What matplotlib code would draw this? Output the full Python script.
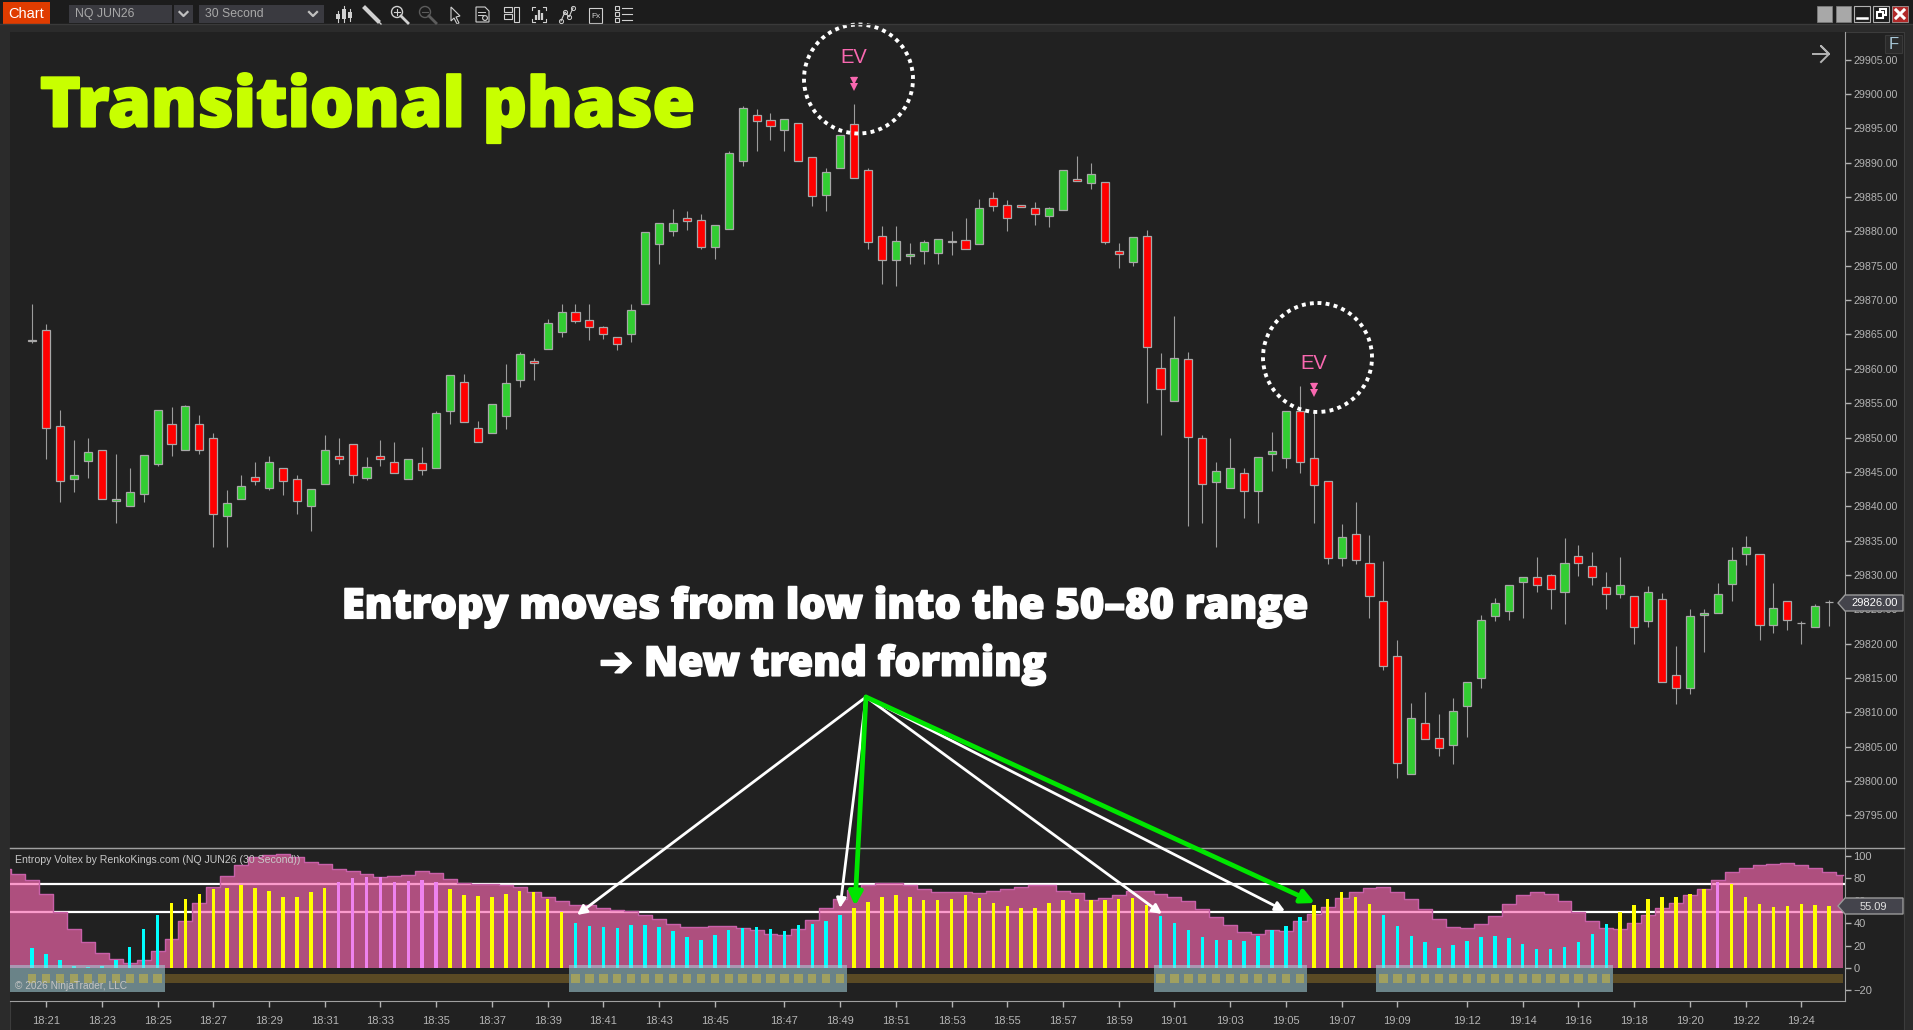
import numpy as np
import matplotlib
matplotlib.use('Agg')
import matplotlib.pyplot as plt
import matplotlib.patheffects as pe
from matplotlib.patches import Circle, Polygon, Rectangle

plt.rcParams['font.family'] = ['Liberation Sans', 'DejaVu Sans']

# NQ JUN26 30 second bars, prices given as points above base_price
base_price = 29800
open_pts = [64.25, 65.7, 51.7, 43.9, 46.6, 48.25, 40.7, 40, 41.75, 46.2,
            51.9, 48.25, 51.9, 50, 38.6, 41, 44.2, 42.7, 45.6, 43.9,
            40, 43.2, 47.3, 49.1, 44.1, 47.3, 46.5, 43.9, 46.25, 45.6,
            53.9, 58.1, 51.4, 50.7, 53.2, 58.4, 61.2, 62.9, 65.4, 68.2,
            67.15, 66.1, 64.7, 65, 69.5, 78.1, 80.1, 82, 81.65, 77.8,
            80.3, 90.3, 96.9, 96.15, 94.8, 95.85, 90.9, 85.3, 89.3, 95.6,
            88.9, 79.3, 75.8, 76.4, 77.1, 76.8, 78.6, 78.8, 78.1, 84.85,
            83.8, 83.8, 83.4, 82.3, 83.05, 87.6, 87.1, 87.2, 77.2, 75.6,
            79.3, 60.1, 55.3, 61.4, 50, 43.45, 42.7, 44.9, 42.15, 47.65,
            46.95, 53.85, 46.95, 43.7, 32.5, 35.9, 31.7, 26.2, 18.2, 1.05,
            8.5, 6.3, 5.3, 10.95, 15, 24, 24.8, 29, 29.7, 29.95,
            27.5, 32.8, 31.3, 28.3, 27.2, 26.95, 23.3, 26.5, 15.4, 13.6,
            24.15, 24.45, 28.65, 33, 33.05, 22.7, 26.2, 23, 22.4, 26]
high_pts = [69.5, 66.5, 54.05, 49.6, 49.9, 48.25, 47.6, 45.5, 47.4, 54,
            54.4, 54.8, 53.3, 50.6, 42.4, 44.5, 46.4, 47.3, 45.6, 44.5,
            42.5, 50.3, 49.9, 49.1, 47.1, 49.6, 49.3, 46.9, 48.6, 53.9,
            59.15, 59.3, 52.4, 54.9, 60.65, 62.5, 61.5, 67.3, 69.4, 69.5,
            69.4, 66.3, 64.7, 69.5, 79.9, 81.2, 83.3, 82.9, 82.6, 80.9,
            91.7, 98.2, 97.75, 97.2, 96.3, 95.85, 90.9, 89.3, 94.1, 98.5,
            89.3, 80.8, 80.8, 78.35, 78.8, 78.9, 80.1, 82, 84.75, 85.7,
            84.6, 83.8, 84.3, 83.6, 88.9, 91, 89.9, 87.2, 78.35, 79.2,
            80.2, 62.3, 67.7, 62.5, 50.3, 46.5, 50, 45.5, 47.2, 50.75,
            53.9, 57.55, 54, 43.7, 37.4, 40.6, 35.8, 32, 20.5, 11.4,
            12.9, 9.8, 12.1, 14.45, 24.1, 26.7, 28.55, 29.7, 32.6, 30.15,
            35.4, 34.4, 33.4, 30.35, 32.6, 26.95, 28.45, 27.4, 19.7, 25,
            25, 28.85, 34.1, 35.7, 33.05, 28.85, 26.2, 23.3, 25.8, 26.4]
low_pts = [63.75, 46.8, 40.6, 42.1, 44.1, 41, 37.6, 40, 40.6, 45.9,
           47.3, 48.25, 47.6, 34.1, 34.1, 41, 43.1, 42.4, 41.6, 38.9,
           36.4, 43.2, 46.1, 43.4, 43.8, 45.8, 44.9, 43.9, 44.5, 45.6,
           52, 52.2, 49.4, 50.7, 51.3, 57.4, 58.3, 62.9, 64.6, 66.7,
           64.15, 64.3, 62.8, 63.9, 69.5, 75.3, 79.3, 80.2, 77.5, 76,
           80.3, 89.5, 91.7, 93.3, 91.7, 90.3, 83.7, 83, 89.3, 87.8,
           77.5, 72.3, 72.1, 75.3, 75.3, 75.3, 76.6, 77.4, 78.1, 83,
           80.1, 83.6, 80.9, 80.6, 83.05, 87.4, 86.1, 78.1, 74.6, 74.9,
           54.95, 50.4, 55.3, 37.15, 37.5, 34.1, 42.7, 38.3, 37.5, 45.1,
           45.55, 44.85, 37.6, 31.65, 31.3, 31.65, 23.7, 16.2, 0.45, 1.05,
           6.05, 3.7, 2.5, 6.4, 13.6, 23.3, 23.4, 23.7, 27.5, 25,
           22.9, 29.9, 28.6, 25, 26.7, 19.9, 22.4, 14.45, 11.25, 12.7,
           18.75, 24.45, 26.2, 31.4, 20.5, 21.5, 22, 19.9, 22.4, 22.6]
close_pts = [64, 51.4, 43.7, 44.5, 47.95, 41, 41, 42, 47.4, 54,
             49.1, 54.6, 48.25, 38.9, 40.5, 42.9, 43.7, 46.5, 43.7, 40.7,
             42.5, 48.25, 46.9, 44.6, 45.7, 46.9, 44.9, 46.9, 45.2, 53.6,
             59.15, 52.2, 49.4, 54.9, 58, 62.2, 60.9, 66.7, 68.2, 67,
             66.1, 65.1, 63.6, 68.5, 79.9, 81.2, 81.2, 81.55, 77.8, 80.9,
             91.4, 97.9, 96.1, 95.4, 96.3, 90.3, 85.1, 88.6, 94.1, 87.8,
             78.45, 75.8, 78.6, 76.75, 78.45, 78.9, 78.5, 77.4, 83.4, 83.7,
             81.9, 83.6, 82.6, 83.4, 88.9, 87.4, 88.3, 78.4, 76.75, 79.2,
             63.2, 57.05, 61.6, 50.1, 43.2, 45.15, 45.5, 42.15, 47.2, 48,
             53.9, 46.5, 43.15, 32.5, 35.5, 32.2, 26.9, 16.75, 2.55, 9.2,
             6.05, 4.75, 10.25, 14.45, 23.5, 25.9, 28.55, 29.7, 28.5, 28,
             31.75, 31.7, 29.7, 27.2, 28.55, 22.45, 27.5, 14.45, 13.6, 24.05,
             24.5, 27.25, 32.2, 34.1, 22.7, 25.2, 23.5, 23, 25.5, 26]

# Entropy Voltex: thin bars per price bar, background area starts two bars earlier
entropy_bars = [18.2, 12.2, 6.8, 2.1, 1.2, 2.1, 7.1, 19, 34.5, 47.6,
                58.3, 61.9, 66.4, 70.8, 71.7, 73.8, 71.7, 69, 63.4, 63.7,
                68.2, 71.7, 76.5, 80.7, 81.3, 81, 77.1, 77.4, 78.9, 77.1,
                70.8, 65.5, 64.6, 63.7, 66.4, 69, 68.2, 61.3, 50.3, 40.5,
                37.2, 36.3, 35.4, 38.1, 38.1, 36.3, 32.7, 27.4, 24.7, 29.2,
                33.6, 35.4, 36.3, 34.5, 32.7, 38.1, 39, 41.7, 47.6, 53.3,
                58.6, 63.1, 65.5, 63.1, 60.4, 60.4, 61.3, 64.9, 62.2, 57.7,
                55.1, 53.3, 53.3, 57.7, 60.4, 61.3, 60.4, 60.4, 61.9, 62.2,
                56.3, 46.4, 39.9, 33.6, 27.4, 24.7, 24.7, 23.8, 28.9, 33.6,
                37.2, 45.2, 56, 61.9, 67.6, 63.7, 56.8, 47.3, 37.2, 28.9,
                22.9, 17.6, 20.2, 23.8, 28, 28.9, 26.5, 21.1, 16.7, 16.7,
                18.5, 22.9, 30.1, 39, 50.3, 56, 61.3, 63.7, 63.7, 66.4,
                70.8, 77.1, 74.7, 63.7, 56.8, 54.2, 55.7, 56.8, 56, 55.09]
entropy_area = [88.4, 83.6, 78.3, 66.1, 50, 35.1, 23, 13.7, 7.8, 4.8, 7.1,
                14.9, 26.2, 41.7, 57.7, 72, 82.1, 92, 98.8, 100.9, 101.8,
                99.4, 94.9, 92.9, 88.1, 86.9, 83.6, 81.5, 81.8, 83.3, 86.3,
                85.1, 79.8, 76.2, 75, 74.7, 74.1, 72, 67.9, 63.1, 59.5,
                56.5, 56.5, 53.9, 51.8, 50.9, 47.6, 44, 39.3, 36.3, 36.3,
                37.5, 37.5, 36, 33.9, 30.1, 29.2, 34.5, 43.2, 53.3, 61.6,
                69.6, 74.1, 76.2, 76.2, 73.8, 70.2, 68.2, 67.9, 67.9, 66.7,
                68.5, 70.8, 72, 73.8, 73.8, 69, 66.7, 61, 62.2, 65.2,
                68.8, 68.8, 66.1, 63.7, 59.5, 52.7, 45.8, 38.7, 32.1, 30.1,
                33.9, 33.3, 42, 48.2, 54.8, 62.2, 68.2, 71.7, 72.6, 68.2,
                61.9, 53, 43.5, 36.9, 36, 39, 46.7, 57.4, 65.5, 67.6,
                66.4, 60.1, 50.3, 42, 36, 35.1, 39.9, 47.6, 53.9, 58.3,
                65.2, 70.8, 78.6, 86, 89.3, 91.7, 92.9, 93.5, 92.3, 89.3,
                86, 83.3]

time_labels = ['18:21', '18:23', '18:25', '18:27', '18:29', '18:31', '18:33', '18:35',
               '18:37', '18:39', '18:41', '18:43', '18:45', '18:47', '18:49', '18:51',
               '18:53', '18:55', '18:57', '18:59', '19:01', '19:03', '19:05', '19:07',
               '19:09', '19:12', '19:14', '19:16', '19:18', '19:20', '19:22', '19:24']
time_bars = [1, 5, 9, 13, 17, 21, 25, 29, 33, 37, 41, 45, 49, 54, 58, 62,
             66, 70, 74, 78, 82, 86, 90, 94, 98, 103, 107, 111, 115, 119, 123, 127]
ev_bars = [59, 92]
entropy_levels = [75, 50]

BG = '#212121'
W, H = 1913, 1030
UP, DOWN = '#32cd32', '#ff0000'
GREY = '#b4b4b4'
PINK = '#f968b0'
HEAVY_FONT = ['Open Sans', 'DejaVu Sans']


def px_axes(left, top, right, bottom, **kw):
    return fig.add_axes([left / W, 1 - bottom / H, (right - left) / W, (bottom - top) / H], **kw)


fig = plt.figure(figsize=(W / 100, H / 100), dpi=100, facecolor='#2b2b2b')

# chart background, also behind the price margin and the time axis
back = px_axes(10, 32, 1904, H, facecolor=BG, zorder=-1)
back.set_xticks([])
back.set_yticks([])
for spine in back.spines.values():
    spine.set_color('#3c3c3c')

# bar i sits at pixel 32.2 + 13.93 i
x_lo, x_hi = (10 - 32.2) / 13.93, (1845 - 32.2) / 13.93

# price panel
ax = px_axes(10, 32, 1845, 848, facecolor=BG)
ax.set_xlim(x_lo, x_hi)
ax.set_ylim(base_price + (781 - 848) / 6.87, base_price + (781 - 32) / 6.87)

idx = np.arange(len(open_pts))
opens = base_price + np.array(open_pts)
highs = base_price + np.array(high_pts)
lows = base_price + np.array(low_pts)
closes = base_price + np.array(close_pts)
colors = [UP if c >= o else DOWN for o, c in zip(opens, closes)]

ax.vlines(idx, lows, highs, color='#9c9c9c', lw=0.8, zorder=2)
ax.bar(idx, np.abs(closes - opens), bottom=np.minimum(opens, closes), width=0.58,
       color=colors, edgecolor='#a8a8a8', linewidth=0.9, zorder=3)

for b in ev_bars:
    top = highs[b]
    ax.plot([b, b], [top + 3.35, top + 2.45], ls='none', marker='v', ms=5.5, mew=0, color=PINK, zorder=4)
    ax.plot([b], [top + 4.0], ls='none', marker='_', ms=5, mew=1, color=PINK, zorder=4)
    ax.text(b, top + 6.8, 'EV', color=PINK, fontsize=14.5, ha='center', va='center', zorder=4)

ax.set_xticks([])
ax.yaxis.tick_right()
ax.set_yticks(np.arange(29795, 29906, 5))
ax.set_yticklabels(['%.2f' % p for p in np.arange(29795, 29906, 5)])
ax.tick_params(axis='y', colors=GREY, labelsize=7.7, length=4, width=1, pad=2)
for side in ('left', 'top', 'bottom'):
    ax.spines[side].set_visible(False)
ax.spines['right'].set_color('#a0a0a0')

# entropy panel
ai = px_axes(10, 848, 1845, 1000.7, facecolor=BG)
ai.set_xlim(x_lo, x_hi)
ai.set_ylim((968 - 1000.7) / 1.12, (968 - 848) / 1.12)

entropy = np.array(entropy_bars)
area_x = np.arange(-2, len(entropy_area) - 2)
for level in entropy_levels:
    ai.axhline(level, color='white', lw=1.6, zorder=1)
ai.fill_between(area_x, 0, entropy_area, step='mid', color=PINK, alpha=0.66, lw=0, zorder=2)
ai.step(area_x, entropy_area, where='mid', color='#c860a8', lw=1, zorder=2)

bar_colors = ['#00ffff' if v < 50 else '#ffff00' if v < 75 else '#ee82ee' for v in entropy]
ai.bar(idx, entropy, width=0.25, color=bar_colors, lw=0, zorder=4)

# state strip below zero: highlighted boxes over the low entropy runs
low = entropy < 50
edges = np.flatnonzero(np.diff(np.r_[0, low.astype(int), 0]))
runs = list(zip(edges[::2], edges[1::2]))
band_lo, band_hi = -13.7, -5.6
prev = x_lo
for start, stop in runs:
    x0 = start - 0.5 if start > 0 else x_lo
    x1 = stop - 0.5
    ai.add_patch(Rectangle((x0, -21.7), x1 - x0, 24.1, fc='#a8d4de', alpha=0.55, lw=0, zorder=5))
    if x0 > prev:
        ai.add_patch(Rectangle((prev, band_lo), x0 - prev, band_hi - band_lo, fc='#5a4a24', lw=0, zorder=3))
    prev = x1
ai.add_patch(Rectangle((prev, band_lo), 130 - prev, band_hi - band_lo, fc='#5a4a24', lw=0, zorder=3))
ai.bar(idx[low], band_hi - band_lo, bottom=band_lo, width=0.6, color='#a0a060', lw=0, zorder=6)

ai.set_xticks(time_bars)
ai.set_xticklabels(time_labels)
ai.yaxis.tick_right()
ai.set_yticks(np.arange(-20, 101, 20))
ai.tick_params(axis='both', colors=GREY, labelsize=8, length=4, width=1, pad=7)
ai.tick_params(axis='y', pad=2)
ai.spines['left'].set_visible(False)
for side in ('top', 'bottom', 'right'):
    ai.spines[side].set_color('#a0a0a0')

# overlay in pixel coordinates for the window chrome and the hand drawn notes
ov = fig.add_axes([0, 0, 1, 1], facecolor='none', zorder=10)
ov.set_xlim(0, W)
ov.set_ylim(H, 0)
ov.axis('off')

ov.add_patch(Rectangle((0, 0), W, 24, fc='#1c1c1c', lw=0))
ov.plot([0, W], [24, 24], color='#3a3a3a', lw=1)
ov.plot([10, 1904], [848, 848], color='#a0a0a0', lw=1)

ov.add_patch(Rectangle((3, 2), 47, 23, fc='#e03c00', lw=0))
ov.text(26.5, 14, 'Chart', color='white', fontsize=10.5, ha='center', va='center')
ov.add_patch(Rectangle((69, 5), 103, 18, fc='#3a3a40', lw=0))
ov.add_patch(Rectangle((174, 5), 19, 18, fc='#3a3a40', lw=0))
ov.add_patch(Rectangle((199, 5), 125, 18, fc='#3a3a40', lw=0))
ov.text(75, 14, 'NQ JUN26', color='#a8a8a8', fontsize=8.8, va='center')
ov.text(205, 14, '30 Second', color='#a8a8a8', fontsize=8.8, va='center')
for cx in (183.5, 313):
    ov.plot([cx - 4, cx, cx + 4], [12, 16, 12], color='#c0c0c0', lw=1.6)

# toolbar icons
ic = '#d0d0d0'
for dx, y0, y1 in [(-6, 11, 22), (0, 6, 22), (6, 9, 21)]:
    ov.plot([344 + dx] * 2, [y0, y1], color=ic, lw=0.8)
    ov.add_patch(Rectangle((344 + dx - 2, y0 + 3), 4, y1 - y0 - 6, fc=ic, lw=0))
ov.plot([365, 378], [8, 21], color=ic, lw=3)
ov.plot([378, 381], [21, 24], color=ic, lw=1)
for cx, col in [(397, ic), (425, '#5c5c5c')]:
    ov.add_patch(Circle((cx, 12), 5.5, fc='none', ec=col, lw=1))
    ov.plot([cx + 4, cx + 11], [16, 23], color=col, lw=2)
    ov.plot([cx - 3, cx + 3], [12, 12], color=col, lw=0.8)
ov.plot([397, 397], [9, 15], color=ic, lw=0.8)
ov.add_patch(Polygon([(451, 7), (451, 21), (454, 18), (457, 24), (459, 23), (456, 17), (460, 16)],
                     fc='#1c1c1c', ec=ic, lw=0.8))
ov.add_patch(Polygon([(476, 7), (485, 7), (489, 11), (489, 22), (476, 22)], fc='none', ec=ic, lw=0.8))
ov.plot([478, 485], [12, 12], color=ic, lw=0.7)
ov.plot([478, 483], [15, 15], color=ic, lw=0.7)
ov.add_patch(Circle((485, 18), 2.4, fc='#1c1c1c', ec=ic, lw=0.8))
ov.add_patch(Rectangle((504, 7), 8, 5, fc='none', ec=ic, lw=0.8))
ov.add_patch(Rectangle((504, 14), 8, 5, fc='none', ec=ic, lw=0.8))
ov.add_patch(Rectangle((514, 7), 5, 15, fc='none', ec=ic, lw=0.8))
ov.plot([532, 532, 535], [10, 7, 7], color=ic, lw=0.8)
ov.plot([543, 546, 546], [7, 7, 10], color=ic, lw=0.8)
ov.plot([532, 532, 535], [19, 22, 22], color=ic, lw=0.8)
ov.plot([543, 546, 546], [22, 22, 19], color=ic, lw=0.8)
ov.vlines([536, 539, 542], [15, 10, 13], 20, color=ic, lw=1.6)
ov.plot([561, 565, 569, 573], [21, 12, 17, 8], color=ic, lw=0.8, marker='o', ms=3, mfc='none', mew=0.7)
ov.add_patch(Rectangle((589, 8), 13, 15, fc='none', ec=ic, lw=0.8))
ov.text(595.5, 16, 'Fx', color=ic, fontsize=6, ha='center', va='center')
for y in (8, 14, 20):
    ov.add_patch(Rectangle((615, y - 2), 4, 4, fc='none', ec=ic, lw=0.8))
    ov.plot([622, 632], [y, y], color=ic, lw=0.8)

# window buttons
for bx in (1817, 1836):
    ov.add_patch(Rectangle((bx, 6), 15, 16, fc='#a8a8a8', ec='#808080', lw=0.5))
for bx in (1854, 1873):
    ov.add_patch(Rectangle((bx, 6), 16, 16, fc='#1c1c1c', ec='#b0b0b0', lw=0.8))
ov.plot([1857, 1867], [18, 18], color='white', lw=1.8)
ov.add_patch(Rectangle((1880, 9), 6, 6, fc='none', ec='white', lw=1.5))
ov.add_patch(Rectangle((1877, 12), 6, 6, fc='#1c1c1c', ec='white', lw=1.5))
ov.add_patch(Rectangle((1892, 6), 16, 16, fc='#b02828', ec='#b0b0b0', lw=0.5))
ov.plot([1896, 1904], [10, 18], color='white', lw=2.2)
ov.plot([1904, 1896], [10, 18], color='white', lw=2.2)

# F button and the arrow in the price margin
ov.add_patch(Rectangle((1885, 35), 17, 18, fc='#2a2a2a', ec='#3a3a3a', lw=0.8))
ov.text(1893.5, 44.5, 'F', color='#a8c8d8', fontsize=12, ha='center', va='center')
ov.plot([1813, 1829, 1821, 1829, 1821], [54, 54, 46, 54, 62], color=GREY, lw=1.4)

# last value tags
ov.add_patch(Polygon([(1838, 603), (1845, 595), (1903, 595), (1903, 611), (1845, 611)],
                     fc='#44444c', ec='#9a9a9a', lw=1))
ov.text(1875, 603.5, '29826.00', color='white', fontsize=8, ha='center', va='center')
ov.add_patch(Polygon([(1838, 906), (1845, 898), (1903, 898), (1903, 914), (1845, 914)],
                     fc='#44444c', ec='#9a9a9a', lw=1))
ov.text(1873, 906.5, '55.09', color='#e0e0e0', fontsize=8, ha='center', va='center')

ov.text(15, 860, 'Entropy Voltex by RenkoKings.com (NQ JUN26 (30 Second))', color='#c8c8c8',
        fontsize=7.6, va='center')
ov.text(15, 986, '\u00a9 2026 NinjaTrader, LLC', color='#c4c4c4', fontsize=7.3, va='center')

# headline and commentary
heavy = [pe.withStroke(linewidth=1.6, foreground='#c8ff00')]
ov.text(40, 108, 'Transitional phase', color='#c8ff00', fontsize=49.5, family=HEAVY_FONT,
        fontweight=800, va='center', path_effects=heavy)
note = [pe.withStroke(linewidth=1.2, foreground='white')]
ov.text(825, 607, 'Entropy moves from low into the 50\u201380 range', color='white', fontsize=30,
        family=HEAVY_FONT, fontweight=800, ha='center', va='center', path_effects=note)
ov.text(823, 665, '\u2794 New trend forming', color='white', fontsize=29.5,
        family=HEAVY_FONT, fontweight=800, ha='center', va='center', path_effects=note)

# dotted rings around the EV signals
for cx, cy in [(858.5, 79), (1317.5, 357.5)]:
    ov.add_patch(Circle((cx, cy), 54.5, fc='none', ec='white', lw=2.8, ls=(0, (1, 1.1))))

# arrows from the note down to the entropy panel
origin = (866, 697)
for tip in [(577, 915), (840, 908), (1162, 914), (1285, 911)]:
    ov.annotate('', xy=tip, xytext=origin, arrowprops=dict(arrowstyle='-|>', color='white', lw=2,
                mutation_scale=14, shrinkA=0, shrinkB=0))
for tip in [(855, 906), (1315, 903)]:
    ov.annotate('', xy=tip, xytext=origin, arrowprops=dict(arrowstyle='-|>', color='#00e600', lw=3.4,
                mutation_scale=20, shrinkA=0, shrinkB=0))

fig.savefig('out.png', dpi=100, facecolor=fig.get_facecolor())
